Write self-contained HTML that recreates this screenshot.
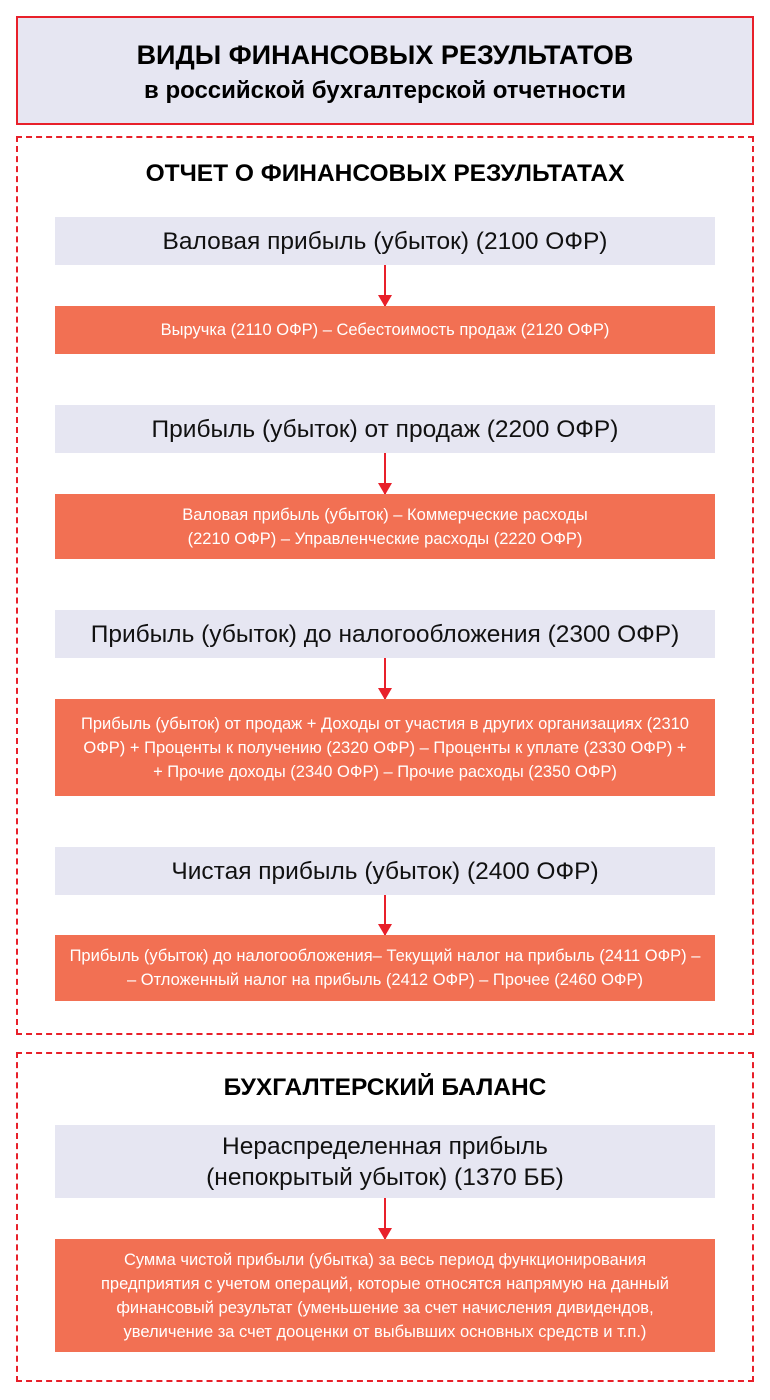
<!DOCTYPE html>
<html><head><meta charset="utf-8"><style>
body{margin:0;width:770px;height:1400px;background:#fff;position:relative;font-family:"Liberation Sans",sans-serif;overflow:hidden}
div{position:absolute;box-sizing:border-box}
.top{left:16px;top:16px;width:738px;height:109px;border:2px solid #e8202a;background:#e6e6f2;text-align:center;color:#000;font-weight:bold}
.dash{left:16px;width:738px;border:2px dashed #e8202a}
.h{left:0;width:770px;text-align:center;font-weight:bold;font-size:24.5px;color:#000}
.l{left:55px;width:660px;background:#e6e6f2;display:flex;align-items:center;justify-content:center;text-align:center;font-size:24.5px;color:#111;line-height:31px}
.o{left:55px;width:660px;background:#f27053;display:flex;align-items:center;justify-content:center;text-align:center;font-size:16.5px;color:#fff;line-height:24px;white-space:nowrap}
.a{left:384px;width:2px;background:#e8202a}
.a:after{content:"";position:absolute;left:-6px;bottom:-1px;border-left:7px solid transparent;border-right:7px solid transparent;border-top:12px solid #e8202a}
</style></head><body>
<div class="top"><div style="left:0;right:0;top:22px;font-size:27px">ВИДЫ ФИНАНСОВЫХ РЕЗУЛЬТАТОВ</div><div style="left:0;right:0;top:59px;font-size:24px">в российской бухгалтерской отчетности</div></div>
<div class="dash" style="top:136px;height:899px"></div>
<div class="h" style="top:160px">ОТЧЕТ О ФИНАНСОВЫХ РЕЗУЛЬТАТАХ</div>
<div class="l" style="top:217px;height:48px">Валовая прибыль (убыток) (2100 ОФР)</div>
<div class="a" style="top:265px;height:41px"></div>
<div class="o" style="top:306px;height:48px">Выручка (2110 ОФР) – Себестоимость продаж (2120 ОФР)</div>
<div class="l" style="top:405px;height:48px">Прибыль (убыток) от продаж (2200 ОФР)</div>
<div class="a" style="top:453px;height:41px"></div>
<div class="o" style="top:494px;height:65px">Валовая прибыль (убыток) – Коммерческие расходы<br>(2210 ОФР) – Управленческие расходы (2220 ОФР)</div>
<div class="l" style="top:610px;height:48px">Прибыль (убыток) до налогообложения (2300 ОФР)</div>
<div class="a" style="top:658px;height:41px"></div>
<div class="o" style="top:699px;height:97px">Прибыль (убыток) от продаж + Доходы от участия в других организациях (2310<br>ОФР) + Проценты к получению (2320 ОФР) – Проценты к уплате (2330 ОФР) +<br>+ Прочие доходы (2340 ОФР) – Прочие расходы (2350 ОФР)</div>
<div class="l" style="top:847px;height:48px">Чистая прибыль (убыток) (2400 ОФР)</div>
<div class="a" style="top:895px;height:40px"></div>
<div class="o" style="top:935px;height:66px">Прибыль (убыток) до налогообложения– Текущий налог на прибыль (2411 ОФР) –<br>– Отложенный налог на прибыль (2412 ОФР) – Прочее (2460 ОФР)</div>
<div class="dash" style="top:1052px;height:330px"></div>
<div class="h" style="top:1074px">БУХГАЛТЕРСКИЙ БАЛАНС</div>
<div class="l" style="top:1125px;height:73px">Нераспределенная прибыль<br>(непокрытый убыток) (1370 ББ)</div>
<div class="a" style="top:1198px;height:41px"></div>
<div class="o" style="top:1239px;height:113px">Сумма чистой прибыли (убытка) за весь период функционирования<br>предприятия с учетом операций, которые относятся напрямую на данный<br>финансовый результат (уменьшение за счет начисления дивидендов,<br>увеличение за счет дооценки от выбывших основных средств и т.п.)</div>
</body></html>
